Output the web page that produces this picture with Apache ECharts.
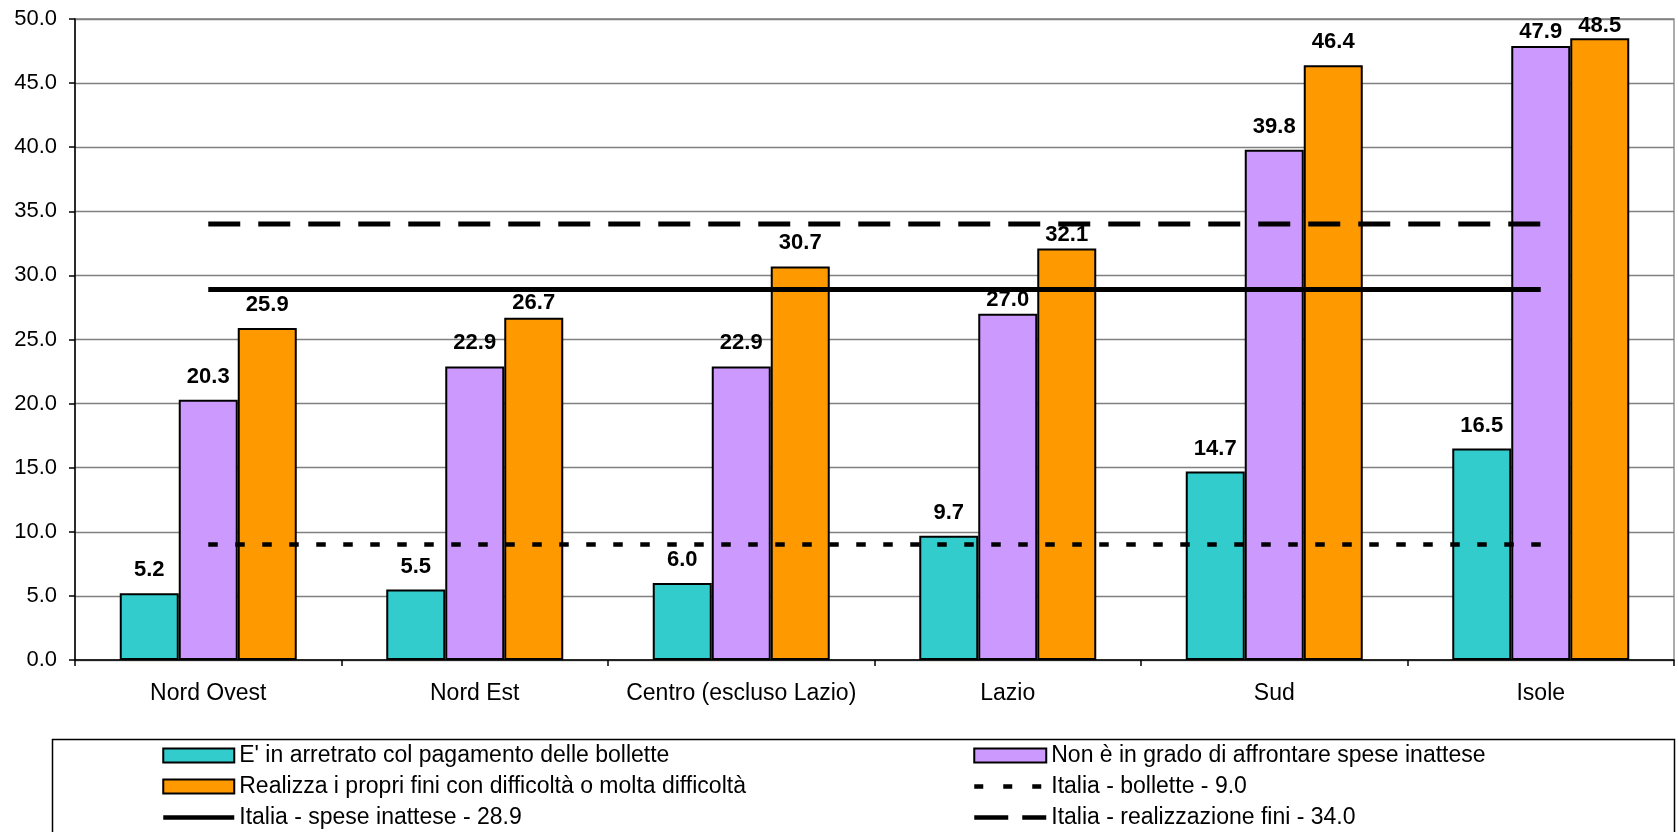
<!DOCTYPE html>
<html>
<head>
<meta charset="utf-8">
<script src="https://cdn.jsdelivr.net/npm/echarts@6/dist/echarts.min.js"></script>
<style>
  html, body { margin: 0; padding: 0; background: #ffffff; }
  #chart { width: 1678px; height: 832px; }
</style>
</head>
<body>
<div id="chart"></div>
<script>
// Regional shares (%) of households in economic difficulty, with national reference values
const regions = ['Nord Ovest', 'Nord Est', 'Centro (escluso Lazio)', 'Lazio', 'Sud', 'Isole'];
const arretratoBollette = [5.2, 5.5, 6.0, 9.7, 14.7, 16.5];
const speseInattese = [20.3, 22.9, 22.9, 27.0, 39.8, 47.9];
const realizzaFini = [25.9, 26.7, 30.7, 32.1, 46.4, 48.5];
const italiaBollette = [9.0, 9.0, 9.0, 9.0, 9.0, 9.0];
const italiaSpese = [28.9, 28.9, 28.9, 28.9, 28.9, 28.9];
const italiaFini = [34.0, 34.0, 34.0, 34.0, 34.0, 34.0];

const seriesNames = {
  bollette: "E' in arretrato col pagamento delle bollette",
  spese: 'Non è in grado di affrontare spese inattese',
  fini: 'Realizza i propri fini con difficoltà o molta difficoltà',
  itBollette: 'Italia - bollette - 9.0',
  itSpese: 'Italia - spese inattese - 28.9',
  itFini: 'Italia - realizzazione fini - 34.0'
};

const FONT = '"Liberation Sans", Arial, sans-serif';
const LABEL_DISTANCE = 12;
// Labels that sit tight on their bar (series key -> category index -> distance)
const tightLabels = {
  spese: { 3: 3, 5: 3 },
  fini: { 1: 4, 3: 3, 5: 1 }
};

function barSeries(key, data, color) {
  const tight = tightLabels[key] || {};
  return {
    name: seriesNames[key],
    type: 'bar',
    data: data.map((v, i) => (i in tight ? { value: v, label: { distance: tight[i] } } : v)),
    barWidth: 59,
    barGap: '0%',
    itemStyle: { color: color, borderColor: '#000000', borderWidth: 2 },
    label: {
      show: true,
      position: 'top',
      distance: LABEL_DISTANCE,
      formatter: p => p.value.toFixed(1),
      color: '#000000',
      fontFamily: FONT,
      fontWeight: 'bold',
      fontSize: 22
    },
    z: 2
  };
}

function refLine(key, data, width, dash) {
  return {
    name: seriesNames[key],
    type: 'line',
    data: data,
    symbol: 'none',
    silent: true,
    itemStyle: { color: '#000000' },
    lineStyle: { color: '#000000', width: width, type: dash, cap: 'butt' },
    z: 4
  };
}

const legendText = { color: '#000000', fontFamily: FONT, fontSize: 23, lineHeight: 31 };
const barEntry = name => ({ name: name, icon: 'rect' });
const lineEntry = (name, dash) => ({
  name: name,
  itemStyle: { color: 'rgba(0,0,0,0)', borderWidth: 0 },
  lineStyle: { width: 4.5, type: dash, color: '#000000', cap: 'butt' }
});

const option = {
  backgroundColor: '#ffffff',
  animation: false,
  grid: {
    left: 75, right: 4, top: 19, bottom: 172,
    show: true, borderColor: '#808080', borderWidth: 1.3, backgroundColor: 'transparent'
  },
  xAxis: {
    type: 'category',
    data: regions,
    axisLine: { lineStyle: { color: '#000000', width: 1.5 } },
    axisTick: { show: true, length: 6, lineStyle: { color: '#000000', width: 1.5 } },
    axisLabel: { interval: 0, margin: 22, color: '#000000', fontFamily: FONT, fontSize: 23 }
  },
  yAxis: {
    type: 'value',
    min: 0, max: 50, interval: 5,
    axisLine: { show: true, lineStyle: { color: '#000000', width: 1.5 } },
    axisTick: { show: true, length: 6, lineStyle: { color: '#000000', width: 1.5 } },
    axisLabel: { margin: 18, color: '#000000', fontFamily: FONT, fontSize: 22, formatter: v => v.toFixed(1) },
    splitLine: { lineStyle: { color: '#808080', width: 1.3 } }
  },
  legend: [
    {
      orient: 'vertical', left: 161, top: 740, height: 110, padding: 0, itemGap: 0,
      itemWidth: 71, itemHeight: 14,
      textStyle: legendText,
      data: [
        barEntry(seriesNames.bollette),
        barEntry(seriesNames.fini),
        lineEntry(seriesNames.itSpese, 'solid')
      ]
    },
    {
      orient: 'vertical', left: 972, top: 740, height: 110, padding: 0, itemGap: 0,
      itemWidth: 72, itemHeight: 14,
      textStyle: legendText,
      data: [
        barEntry(seriesNames.spese),
        lineEntry(seriesNames.itBollette, [9, 20]),
        lineEntry(seriesNames.itFini, [34, 14])
      ]
    }
  ],
  graphic: [{
    type: 'rect',
    left: 50, top: 737,
    shape: { width: 1622, height: 130 },
    style: { fill: 'none', stroke: '#000000', lineWidth: 1.5 },
    silent: true
  }],
  series: [
    barSeries('bollette', arretratoBollette, '#33CCCC'),
    barSeries('spese', speseInattese, '#CC99FF'),
    barSeries('fini', realizzaFini, '#FF9900'),
    refLine('itBollette', italiaBollette, 4.5, [9.5, 17.5]),
    refLine('itSpese', italiaSpese, 5, 'solid'),
    refLine('itFini', italiaFini, 5, [32, 18])
  ]
};

const chart = echarts.init(document.getElementById('chart'), null, { renderer: 'canvas' });
chart.setOption(option);
</script>
</body>
</html>
